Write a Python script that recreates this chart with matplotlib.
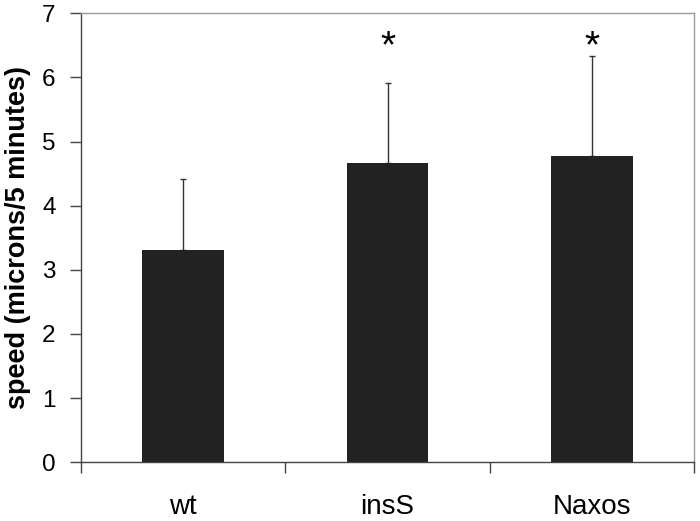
import numpy as np
import matplotlib
matplotlib.use("Agg")
import matplotlib.pyplot as plt

plt.rcParams["font.family"] = ["Liberation Sans", "DejaVu Sans"]

# ── Data ─────────────────────────────────────────────────────────────────────

groups  = ["wt", "insS", "Naxos"]
speed   = [3.31, 4.67, 4.78]
err_up  = [1.11, 1.25, 1.55]
signif  = [False, True, True]

# ── Figure ───────────────────────────────────────────────────────────────────

fig = plt.figure(figsize=(7.0, 5.21), dpi=100)
ax  = fig.add_axes([0.1153, 0.1127, 0.8766, 0.8618])

x = np.arange(len(groups))
ax.bar(x, speed, width=0.4, color="#222222", zorder=2)
ax.errorbar(x, speed, yerr=[np.zeros(len(x)), err_up], fmt="none",
            ecolor="#333333", elinewidth=1.0, capsize=2, capthick=1.0, zorder=1)

for xi, s in zip(x, signif):
    if s:
        ax.text(xi, 6.32, "*", ha="center", va="baseline", fontsize=28, color="black")

ax.set_xlim(-0.5, len(groups) - 0.5)
ax.set_ylim(0, 7)
ax.set_yticks(range(0, 8))

ax.set_xticks(x)
ax.set_xticklabels(groups, fontsize=20)
ax.set_xticks(np.arange(-0.5, len(groups)), minor=True)
ax.tick_params(axis="x", which="major", length=0, pad=23)
ax.tick_params(axis="x", which="minor", length=8, width=1, color="#444444", direction="out")
ax.tick_params(axis="y", labelsize=17.5, length=8, width=1, color="#444444", direction="out", pad=10)

ax.set_ylabel("speed (microns/5 minutes)", fontsize=19.5, fontweight="bold", labelpad=8)

for side in ["left", "bottom"]:
    ax.spines[side].set_color("#444444")
    ax.spines[side].set_linewidth(1)
for side in ["top", "right"]:
    ax.spines[side].set_color("#9a9a9a")
    ax.spines[side].set_linewidth(1)

fig.savefig("out.png", dpi=100, facecolor="white")
